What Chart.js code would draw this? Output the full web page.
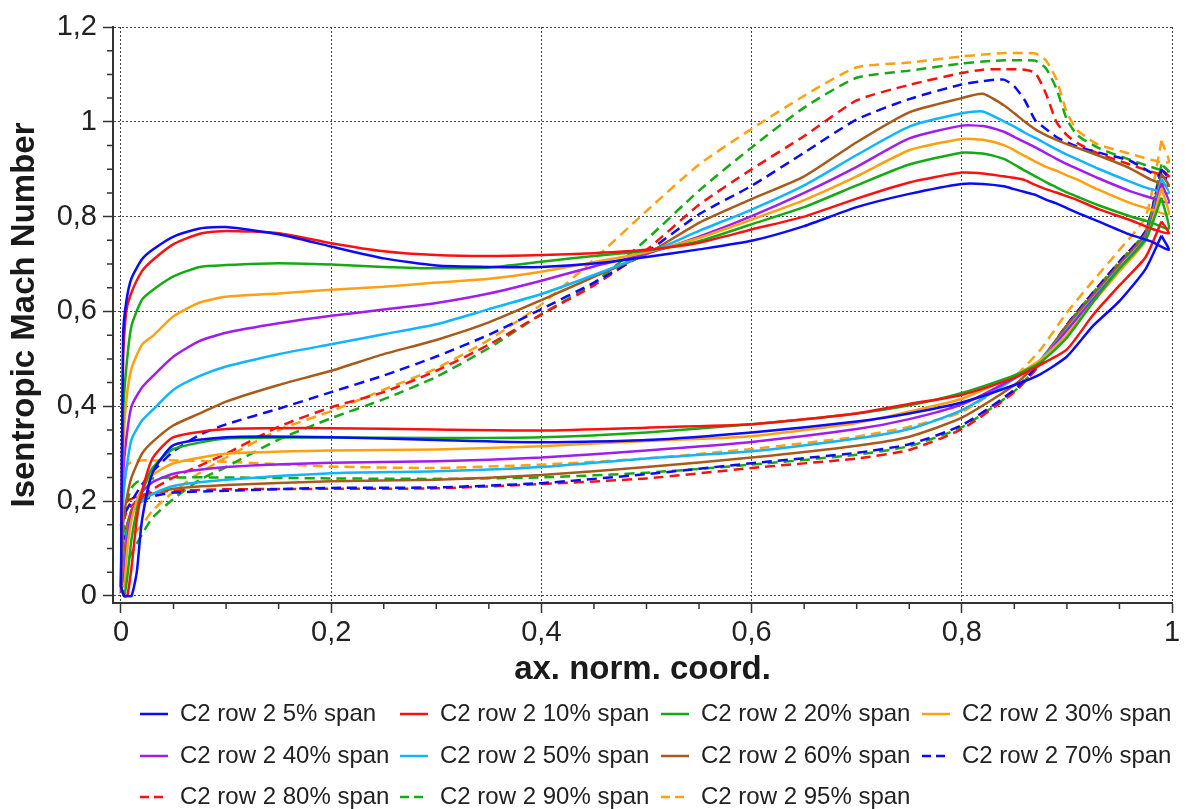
<!DOCTYPE html>
<html>
<head>
<meta charset="utf-8">
<script src="https://cdn.jsdelivr.net/npm/chart.js@4/dist/chart.umd.min.js"></script>
<style>
  html, body { margin: 0; padding: 0; background: #fff; }
  canvas { display: block; }
</style>
</head>
<body>
<canvas id="machChart" width="1186" height="809"></canvas>
<script>
// x positions (axial normalised coordinate) for suction side and pressure side
const X_UP = [0, 0.002, 0.005, 0.01, 0.02, 0.03, 0.05, 0.075, 0.1, 0.15,
  0.2, 0.25, 0.3, 0.35, 0.4, 0.45, 0.5, 0.55, 0.6, 0.65, 0.7, 0.75,
  0.8, 0.82, 0.84, 0.85, 0.86, 0.87, 0.88, 0.89, 0.9, 0.91, 0.93, 0.96, 0.98, 0.997];
const X_LO = [0, 0.003, 0.006, 0.01, 0.015, 0.02, 0.03, 0.05, 0.1, 0.2, 0.3, 0.4,
  0.5, 0.6, 0.7, 0.75, 0.8, 0.85, 0.875, 0.9, 0.925, 0.95, 0.975, 0.99];

const SPANS = ['C2 row 2 5% span', 'C2 row 2 10% span', 'C2 row 2 20% span', 'C2 row 2 30% span',
  'C2 row 2 40% span', 'C2 row 2 50% span', 'C2 row 2 60% span', 'C2 row 2 70% span',
  'C2 row 2 80% span', 'C2 row 2 90% span', 'C2 row 2 95% span'];

// suction side (upper branch) isentropic Mach number
const UP_05 = [0.02, 0.55, 0.62, 0.67, 0.71, 0.73, 0.758, 0.775, 0.778, 0.763, 0.737, 0.712, 0.697, 0.694, 0.694, 0.701, 0.715, 0.731, 0.749, 0.78, 0.82, 0.848, 0.869, 0.869, 0.864, 0.858, 0.852, 0.846, 0.836, 0.828, 0.818, 0.808, 0.79, 0.762, 0.748, 0.73];
const UP_10 = [0.02, 0.5, 0.6, 0.64, 0.685, 0.708, 0.742, 0.764, 0.77, 0.765, 0.744, 0.727, 0.719, 0.717, 0.719, 0.723, 0.73, 0.745, 0.773, 0.8, 0.838, 0.872, 0.893, 0.891, 0.885, 0.882, 0.877, 0.867, 0.858, 0.851, 0.843, 0.835, 0.816, 0.793, 0.775, 0.765];
const UP_20 = [0.02, 0.38, 0.48, 0.57, 0.625, 0.645, 0.674, 0.694, 0.698, 0.702, 0.699, 0.694, 0.691, 0.693, 0.705, 0.717, 0.728, 0.748, 0.784, 0.82, 0.866, 0.91, 0.935, 0.933, 0.922, 0.91, 0.897, 0.885, 0.873, 0.862, 0.851, 0.842, 0.824, 0.801, 0.788, 0.775];
const UP_30 = [0.02, 0.3, 0.41, 0.48, 0.53, 0.548, 0.59, 0.619, 0.631, 0.638, 0.646, 0.652, 0.661, 0.669, 0.684, 0.704, 0.725, 0.755, 0.794, 0.835, 0.885, 0.94, 0.964, 0.962, 0.951, 0.94, 0.928, 0.916, 0.905, 0.897, 0.887, 0.878, 0.857, 0.829, 0.815, 0.805];
const UP_40 = [0.02, 0.25, 0.33, 0.4, 0.44, 0.463, 0.505, 0.538, 0.555, 0.575, 0.591, 0.604, 0.618, 0.638, 0.665, 0.695, 0.722, 0.758, 0.801, 0.85, 0.905, 0.965, 0.992, 0.991, 0.979, 0.968, 0.957, 0.946, 0.934, 0.922, 0.911, 0.901, 0.881, 0.854, 0.84, 0.83];
const UP_50 = [0.02, 0.2, 0.265, 0.33, 0.37, 0.392, 0.435, 0.464, 0.484, 0.51, 0.531, 0.552, 0.573, 0.605, 0.637, 0.677, 0.721, 0.77, 0.815, 0.866, 0.93, 0.99, 1.018, 1.022, 1.001, 0.99, 0.977, 0.966, 0.954, 0.942, 0.931, 0.921, 0.901, 0.874, 0.858, 0.85];
const UP_60 = [0.02, 0.15, 0.2, 0.25, 0.3, 0.325, 0.36, 0.385, 0.41, 0.445, 0.475, 0.51, 0.54, 0.577, 0.624, 0.673, 0.721, 0.787, 0.837, 0.885, 0.957, 1.02, 1.05, 1.059, 1.035, 1.018, 1.0, 0.984, 0.972, 0.962, 0.953, 0.945, 0.929, 0.902, 0.878, 0.865];
const UP_70 = [0.15, 0.165, 0.18, 0.2, 0.235, 0.262, 0.305, 0.34, 0.362, 0.395, 0.43, 0.465, 0.505, 0.551, 0.605, 0.661, 0.725, 0.805, 0.865, 0.935, 1.005, 1.048, 1.079, 1.086, 1.089, 1.075, 1.045, 1.003, 0.985, 0.968, 0.957, 0.948, 0.935, 0.918, 0.893, 0.88];
const UP_80 = [0.14, 0.16, 0.175, 0.19, 0.208, 0.225, 0.25, 0.275, 0.3, 0.357, 0.398, 0.43, 0.475, 0.53, 0.594, 0.655, 0.73, 0.825, 0.9, 0.97, 1.045, 1.078, 1.103, 1.11, 1.111, 1.111, 1.11, 1.103, 1.06, 1.0, 0.972, 0.955, 0.933, 0.91, 0.895, 0.885];
const UP_90 = [0.05, 0.06, 0.07, 0.09, 0.13, 0.165, 0.205, 0.245, 0.272, 0.33, 0.375, 0.415, 0.462, 0.523, 0.594, 0.66, 0.752, 0.855, 0.946, 1.03, 1.093, 1.108, 1.123, 1.127, 1.13, 1.13, 1.13, 1.129, 1.113, 1.07, 1.005, 0.972, 0.945, 0.92, 0.905, 0.895];
const UP_95 = [0.12, 0.15, 0.135, 0.128, 0.15, 0.18, 0.22, 0.26, 0.292, 0.35, 0.39, 0.435, 0.48, 0.54, 0.615, 0.71, 0.812, 0.91, 0.985, 1.055, 1.115, 1.125, 1.138, 1.142, 1.145, 1.145, 1.145, 1.144, 1.13, 1.09, 1.02, 0.982, 0.952, 0.933, 0.92, 0.915];

// pressure side (lower branch)
const LO_05 = [0.02, 0.0, 0.0, 0.0, 0.05, 0.16, 0.26, 0.318, 0.335, 0.335, 0.329, 0.324, 0.329, 0.345, 0.368, 0.385, 0.408, 0.445, 0.468, 0.505, 0.57, 0.622, 0.69, 0.76];
const LO_10 = [0.02, 0.0, 0.0, 0.06, 0.16, 0.22, 0.29, 0.335, 0.352, 0.354, 0.351, 0.349, 0.355, 0.362, 0.385, 0.405, 0.424, 0.46, 0.488, 0.52, 0.593, 0.655, 0.715, 0.79];
const LO_20 = [0.02, 0.0, 0.04, 0.12, 0.18, 0.22, 0.27, 0.31, 0.332, 0.334, 0.333, 0.335, 0.345, 0.362, 0.385, 0.402, 0.428, 0.465, 0.493, 0.545, 0.62, 0.69, 0.752, 0.84];
const LO_30 = [0.02, 0.02, 0.1, 0.16, 0.2, 0.225, 0.255, 0.28, 0.3, 0.307, 0.309, 0.316, 0.327, 0.337, 0.365, 0.389, 0.416, 0.465, 0.498, 0.552, 0.62, 0.685, 0.75, 0.86];
const LO_40 = [0.02, 0.04, 0.12, 0.17, 0.2, 0.22, 0.24, 0.258, 0.272, 0.281, 0.284, 0.292, 0.307, 0.325, 0.352, 0.373, 0.404, 0.46, 0.496, 0.56, 0.625, 0.69, 0.755, 0.87];
const LO_50 = [0.02, 0.05, 0.13, 0.17, 0.19, 0.2, 0.215, 0.232, 0.245, 0.259, 0.263, 0.272, 0.29, 0.305, 0.332, 0.352, 0.392, 0.458, 0.498, 0.562, 0.628, 0.692, 0.757, 0.88];
const LO_60 = [0.02, 0.08, 0.15, 0.18, 0.195, 0.205, 0.215, 0.226, 0.234, 0.242, 0.245, 0.255, 0.272, 0.292, 0.317, 0.336, 0.376, 0.445, 0.498, 0.57, 0.635, 0.7, 0.765, 0.89];
const LO_70 = [0.15, 0.12, 0.15, 0.18, 0.19, 0.2, 0.21, 0.218, 0.222, 0.228, 0.229, 0.238, 0.257, 0.28, 0.302, 0.32, 0.36, 0.435, 0.494, 0.572, 0.64, 0.705, 0.77, 0.9];
const LO_80 = [0.14, 0.17, 0.2, 0.205, 0.21, 0.213, 0.218, 0.222, 0.225, 0.226, 0.227, 0.236, 0.248, 0.27, 0.29, 0.308, 0.352, 0.43, 0.49, 0.572, 0.64, 0.705, 0.77, 0.9];
const LO_90 = [0.05, 0.15, 0.2, 0.228, 0.24, 0.245, 0.248, 0.25, 0.25, 0.248, 0.247, 0.25, 0.26, 0.277, 0.298, 0.316, 0.356, 0.432, 0.492, 0.572, 0.64, 0.705, 0.77, 0.91];
const LO_95 = [0.12, 0.24, 0.275, 0.283, 0.285, 0.286, 0.286, 0.286, 0.283, 0.273, 0.27, 0.277, 0.29, 0.31, 0.336, 0.357, 0.388, 0.462, 0.52, 0.598, 0.665, 0.73, 0.8, 0.96];

const UPPER = [UP_05, UP_10, UP_20, UP_30, UP_40, UP_50, UP_60, UP_70, UP_80, UP_90, UP_95];
const LOWER = [LO_05, LO_10, LO_20, LO_30, LO_40, LO_50, LO_60, LO_70, LO_80, LO_90, LO_95];

const COLORS = ['#0a0aff', '#ff1010', '#14aa14', '#ffa010', '#a01cf0', '#10b4ff', '#a85a1a',
  '#0a0aff', '#ff1010', '#14aa14', '#ffa010'];
const DASHED = [false, false, false, false, false, false, false, true, true, true, true];

const FONT = "'Liberation Sans', Arial, Helvetica, sans-serif";
const fmt = v => String(Math.round(v * 10) / 10).replace('.', ',');

// closed loop: pressure side from TE to LE, then suction side back to TE
const datasets = SPANS.map((label, i) => {
  const pts = [];
  for (let k = X_LO.length - 1; k >= 0; k--) pts.push({ x: X_LO[k], y: LOWER[i][k] });
  for (let k = 0; k < X_UP.length; k++) pts.push({ x: X_UP[k], y: UPPER[i][k] });
  pts.push({ x: X_LO[X_LO.length - 1], y: LOWER[i][X_LO.length - 1] });
  return {
    label: label,
    data: pts,
    showLine: true,
    borderColor: COLORS[i],
    backgroundColor: COLORS[i],
    borderWidth: 2.5,
    borderDash: DASHED[i] ? [10, 6] : [],
    pointRadius: 0,
    tension: 0.2,
    fill: false
  };
});

// small ticks between the labelled ones
const minorTicks = {
  id: 'minorTicks',
  afterDraw(chart) {
    const { ctx, chartArea, scales } = chart;
    ctx.save();
    ctx.strokeStyle = '#333';
    ctx.lineWidth = 1.5;
    ctx.beginPath();
    for (let k = 1; k < 20; k++) {
      if (k % 4 === 0) continue;
      const px = scales.x.getPixelForValue(k * 0.05);
      ctx.moveTo(px, chartArea.bottom);
      ctx.lineTo(px, chartArea.bottom + 6);
    }
    for (let k = 1; k < 24; k++) {
      if (k % 4 === 0) continue;
      const py = scales.y.getPixelForValue(k * 0.05);
      ctx.moveTo(chartArea.left - 6, py);
      ctx.lineTo(chartArea.left, py);
    }
    ctx.stroke();
    ctx.restore();
  }
};

// legend in four columns under the axis title
const LEGEND_X = [140, 400, 661, 922];
const LEGEND_Y = [714, 756, 797];
const spanLegend = {
  id: 'spanLegend',
  afterDraw(chart) {
    const ctx = chart.ctx;
    chart.data.datasets.forEach((ds, i) => {
      const x = LEGEND_X[i % 4];
      const y = LEGEND_Y[Math.floor(i / 4)];
      ctx.save();
      ctx.strokeStyle = ds.borderColor;
      ctx.lineWidth = 2.5;
      ctx.setLineDash(ds.borderDash.length ? [9, 5] : []);
      ctx.beginPath();
      ctx.moveTo(x, y);
      ctx.lineTo(x + 28, y);
      ctx.stroke();
      ctx.setLineDash([]);
      ctx.fillStyle = '#222';
      ctx.font = '24px ' + FONT;
      ctx.textBaseline = 'middle';
      ctx.fillText(ds.label, x + 40, y);
      ctx.restore();
    });
  }
};

const ctx = document.getElementById('machChart').getContext('2d');
new Chart(ctx, {
  type: 'scatter',
  data: { datasets: datasets },
  options: {
    responsive: false,
    animation: false,
    devicePixelRatio: 1,
    layout: { padding: { left: 0, right: 14, top: 27, bottom: 119 } },
    plugins: {
      legend: { display: false },
      tooltip: { enabled: false }
    },
    scales: {
      x: {
        type: 'linear',
        min: -0.0076,
        max: 1,
        afterFit: s => { s.height = 87; },
        ticks: {
          stepSize: 0.2, includeBounds: false, maxRotation: 0, padding: 3,
          color: '#222', font: { family: FONT, size: 29 }, callback: fmt
        },
        grid: { color: '#444', lineWidth: 1, tickLength: 10, tickColor: '#333', tickWidth: 1.5 },
        border: { display: true, color: '#333', width: 2, dash: [2, 2] },
        title: {
          display: true, text: 'ax. norm. coord.', color: '#1a1a1a',
          font: { family: FONT, size: 33, weight: 'bold' }, padding: { top: 0, bottom: 0 }
        }
      },
      y: {
        type: 'linear',
        min: -0.0148,
        max: 1.2,
        afterFit: s => { s.width = 113; },
        ticks: {
          stepSize: 0.2, includeBounds: false, padding: 6,
          color: '#222', font: { family: FONT, size: 29 }, callback: fmt
        },
        grid: { color: '#444', lineWidth: 1, tickLength: 10, tickColor: '#333', tickWidth: 1.5 },
        border: { display: true, color: '#333', width: 2, dash: [2, 2] },
        title: {
          display: true, text: 'Isentropic Mach Number', color: '#1a1a1a',
          font: { family: FONT, size: 33, weight: 'bold' }, padding: { top: 5, bottom: 0 }
        }
      }
    }
  },
  plugins: [minorTicks, spanLegend]
});
</script>
</body>
</html>
